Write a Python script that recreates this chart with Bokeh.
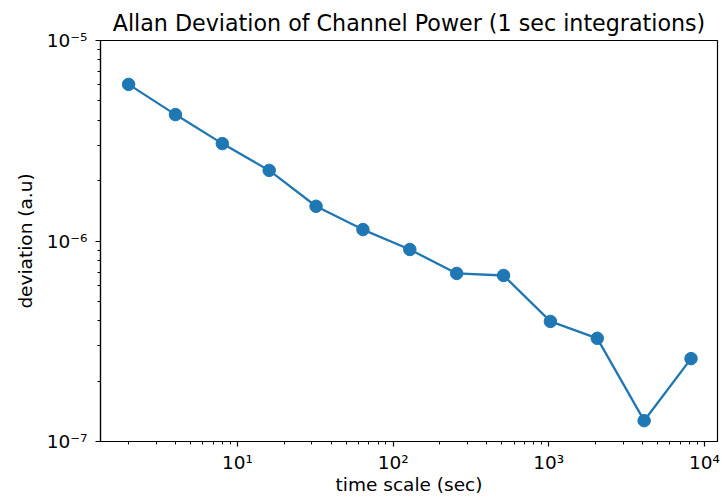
from bokeh.plotting import figure
from bokeh.models import Range1d, FixedTicker
from bokeh.embed import file_html
from bokeh.resources import INLINE

# Data
time_scale = [2, 4, 8, 16, 32, 64, 128, 256, 512, 1024, 2048, 4096, 8192]
deviation = [6.04e-6, 4.27e-6, 3.06e-6, 2.25e-6, 1.49e-6, 1.14e-6, 9.07e-7,
             6.89e-7, 6.73e-7, 3.97e-7, 3.27e-7, 1.27e-7, 2.59e-7]

x_major = [1e1, 1e2, 1e3, 1e4]
x_labels = {1e1: "10¹", 1e2: "10²", 1e3: "10³", 1e4: "10⁴"}
y_major = [1e-7, 1e-6, 1e-5]
y_labels = {1e-7: "10⁻⁷", 1e-6: "10⁻⁶", 1e-5: "10⁻⁵"}

title = "Allan Deviation of Channel Power (1 sec integrations)"
xlabel = "time scale (sec)"
ylabel = "deviation (a.u)"

FONT = "DejaVu Sans"
BLUE = "#1f77b4"

p = figure(width=726, height=497, x_axis_type="log", y_axis_type="log",
           x_range=Range1d(1.32, 12120), y_range=Range1d(1e-7, 1e-5),
           output_backend="svg", toolbar_location=None,
           min_border_left=100, min_border_right=9, min_border_top=40,
           min_border_bottom=56, title=title)

p.title.text_font = FONT
p.title.text_font_size = "22.2px"
p.title.text_font_style = "normal"
p.title.align = "center"
p.title.text_color = "black"
p.title.offset = 0
p.title.standoff = 10

x_minor = []
for d in [1, 10, 100, 1000]:
    for m in range(2, 10):
        x_minor.append(m * d)
y_minor = []
for d in [1e-7, 1e-6]:
    for m in range(2, 10):
        y_minor.append(m * d)

p.xaxis.ticker = FixedTicker(ticks=x_major, minor_ticks=x_minor)
p.yaxis.ticker = FixedTicker(ticks=y_major, minor_ticks=y_minor)
p.xaxis.major_label_overrides = x_labels
p.yaxis.major_label_overrides = y_labels

for ax in (p.xaxis[0], p.yaxis[0]):
    ax.major_label_text_font = FONT
    ax.major_label_text_font_size = "18.5px"
    ax.major_label_text_color = "black"
    ax.axis_label_text_font = FONT
    ax.axis_label_text_font_size = "18.5px"
    ax.axis_label_text_font_style = "normal"
    ax.axis_label_text_color = "black"
    ax.major_tick_out = 5
    ax.major_tick_in = 0
    ax.minor_tick_out = 3
    ax.minor_tick_in = 0
    ax.axis_line_color = "black"
    ax.axis_line_width = 1.2
    ax.major_tick_line_color = "black"
    ax.minor_tick_line_color = "black"
    ax.major_tick_line_width = 1.2
    ax.minor_tick_line_width = 1

p.xaxis.axis_label = xlabel
p.yaxis.axis_label = ylabel
p.xaxis.major_label_standoff = 5
p.yaxis.major_label_standoff = 8
p.xaxis.axis_label_standoff = -2
p.yaxis.axis_label_standoff = 8

p.xgrid.visible = False
p.ygrid.visible = False
p.outline_line_color = "black"
p.outline_line_width = 1.2
p.background_fill_color = "white"
p.border_fill_color = "white"

p.line(time_scale, deviation, line_color=BLUE, line_width=2.3)
p.scatter(time_scale, deviation, size=12.5, fill_color=BLUE, line_color=BLUE)

open("out.html", "w").write(file_html(p, INLINE))
